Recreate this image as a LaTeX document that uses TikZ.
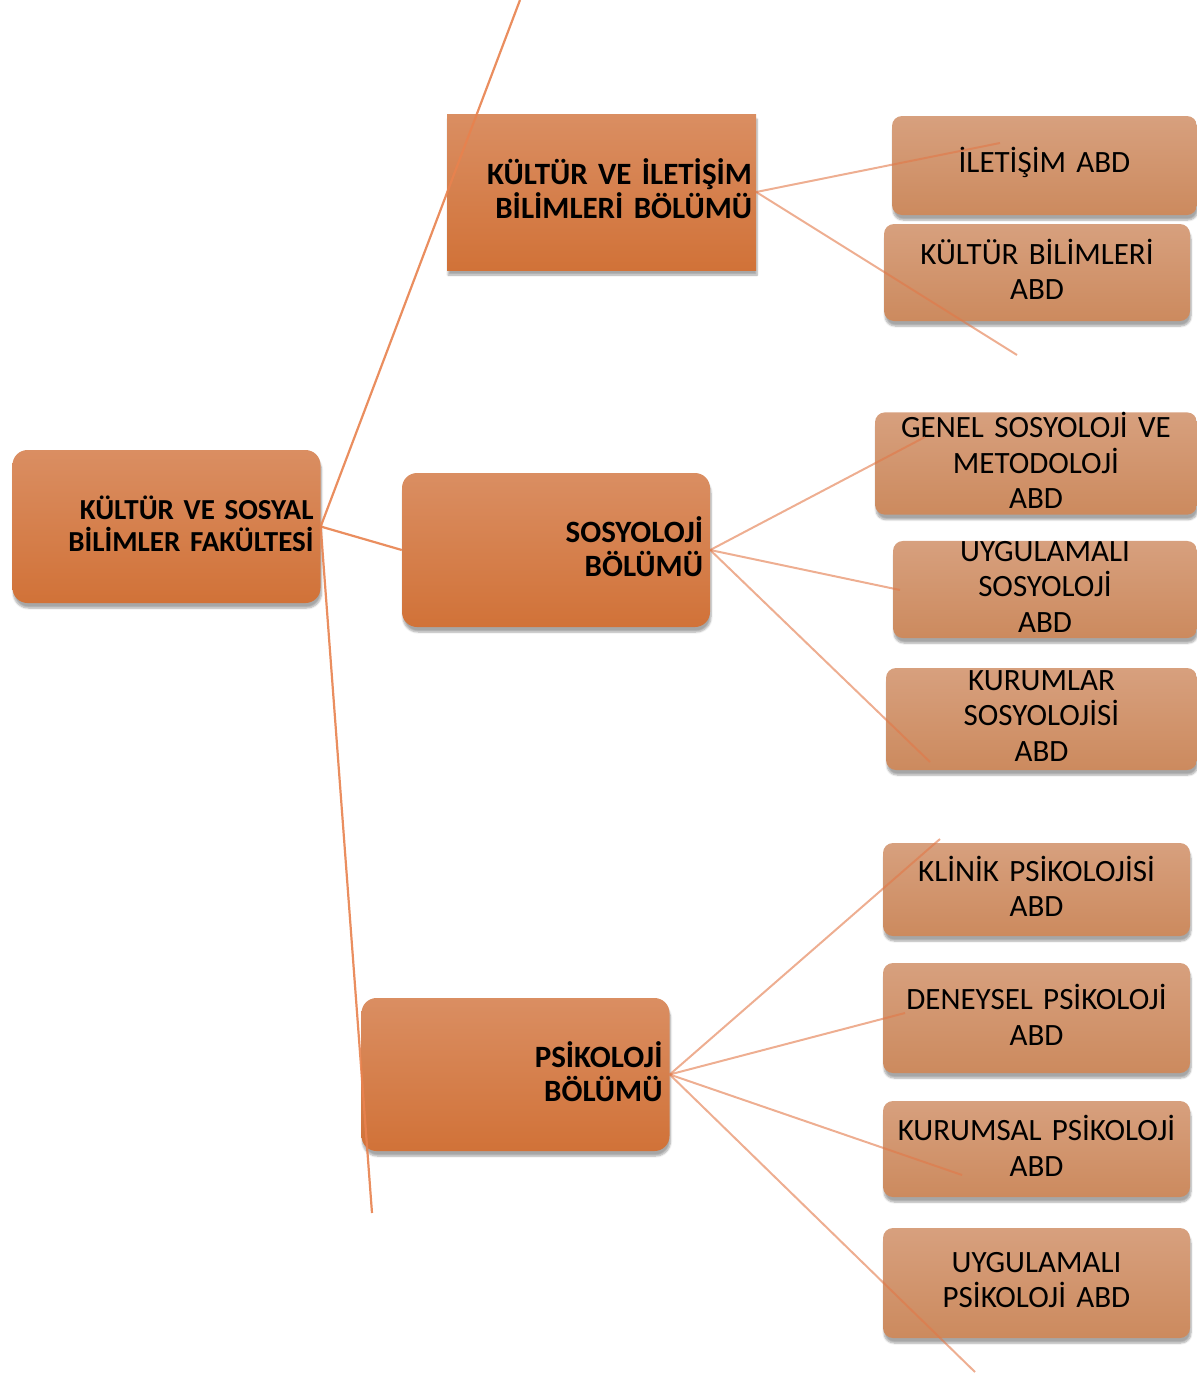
\documentclass[tikz,border=0pt]{standalone}
\usepackage{fontspec}
\setmainfont{Carlito}
\usetikzlibrary{shadows,shadows.blur}
\definecolor{ustA}{RGB}{218,142,98}
\definecolor{ustB}{RGB}{209,114,56}
\definecolor{abdA}{RGB}{215,160,126}
\definecolor{abdB}{RGB}{204,138,94}
\definecolor{kolC}{RGB}{232,130,78}
\definecolor{dalC}{RGB}{226,120,72}
\newcommand\altbosluk{\par\vspace*{6pt}}
\begin{document}
\begin{tikzpicture}[x=1pt,y=-1pt,
		golge/.style={blur shadow={shadow xshift=1pt,shadow yshift=-5pt,shadow blur steps=6,shadow opacity=35}},
		yukari/.style={execute at end node=\altbosluk},
		bolum/.style={golge,yukari,top color=ustA,bottom color=ustB,minimum width=308pt,minimum height=154pt,
			text width=294pt,inner xsep=7pt,inner ysep=0pt,align=right,font=\fontsize{31}{34}\selectfont\bfseries},
		abd/.style={golge,yukari,rounded corners=10pt,top color=abdA,bottom color=abdB,minimum width=#1,minimum height=98pt,
			text width=#1,inner sep=0pt,align=center,font=\fontsize{31}{35.5}\selectfont},
		abd/.default=306pt,
		kol/.style={kolC,line width=2.2pt,opacity=.9},
		dal/.style={dalC,line width=2pt,opacity=.6}]
	\useasboundingbox (0,0) rectangle (1197,1374);
	\node[bolum,rounded corners=15pt,minimum width=307pt,minimum height=153pt,
		font=\fontsize{29}{32}\selectfont\bfseries] (fak) at (166.5,526.5) {KÜLTÜR VE SOSYAL\\BİLİMLER FAKÜLTESİ};
	\node[bolum,minimum height=156pt,inner xsep=4pt,text width=301pt] (kib) at (601.5,192) {KÜLTÜR VE İLETİŞİM\\BİLİMLERİ BÖLÜMÜ};
	\node[bolum,rounded corners=15pt] (sos) at (556,550) {SOSYOLOJİ\\BÖLÜMÜ};
	\node[bolum,rounded corners=15pt,minimum width=307pt,minimum height=153pt] (psi) at (515.5,1074.5) {PSİKOLOJİ\\BÖLÜMÜ};

	\node[abd=305pt,minimum height=99pt] (ilt) at (1044.5,165.5) {İLETİŞİM ABD};
	\node[abd,minimum height=97pt] (kbl) at (1037,272.5) {KÜLTÜR BİLİMLERİ\\ABD};
	\node[abd=322pt,minimum height=99pt] (gen) at (1036,463.5) {GENEL SOSYOLOJİ VE\\METODOLOJİ\\ABD};
	\node[abd=304pt,minimum height=95pt] (uyg) at (1045,589.5) {UYGULAMALI\\SOSYOLOJİ\\ABD};
	\node[abd=311pt,minimum height=102pt] (kur) at (1041.5,719) {KURUMLAR\\SOSYOLOJİSİ\\ABD};
	\node[abd=307pt,minimum height=93pt] (kln) at (1036.5,889.5) {KLİNİK PSİKOLOJİSİ\\ABD};
	\node[abd=307pt,minimum height=110pt] (den) at (1036.5,1018) {DENEYSEL PSİKOLOJİ\\ABD};
	\node[abd=307pt,minimum height=96pt] (krm) at (1036.5,1149) {KURUMSAL PSİKOLOJİ\\ABD};
	\node[abd=307pt,minimum height=110pt] (uyp) at (1036.5,1283) {UYGULAMALI\\PSİKOLOJİ ABD};

	\coordinate (fakUst) at (520,0);
	\coordinate (fakAlt) at (372,1213);
	\coordinate (kibA) at (1000,143);
	\coordinate (kibB) at (1017,355);
	\coordinate (sosA) at (925,437);
	\coordinate (sosB) at (900,590);
	\coordinate (sosC) at (930,762);
	\coordinate (psiA) at (940,839);
	\coordinate (psiB) at (905,1013);
	\coordinate (psiC) at (962,1175);
	\coordinate (psiD) at (975,1372);

	\draw[kol] (fak.east) -- (fakUst);
	\draw[kol] (fak.east) -- (sos.west);
	\draw[kol] (fak.east) -- (fakAlt);
	\draw[dal] (kib.east) -- (kibA);
	\draw[dal] (kib.east) -- (kibB);
	\foreach \u in {sosA,sosB,sosC}
		\draw[dal] (sos.east) -- (\u);
	\foreach \u in {psiA,psiB,psiC,psiD}
		\draw[dal] (psi.east) -- (\u);
\end{tikzpicture}
\end{document}
